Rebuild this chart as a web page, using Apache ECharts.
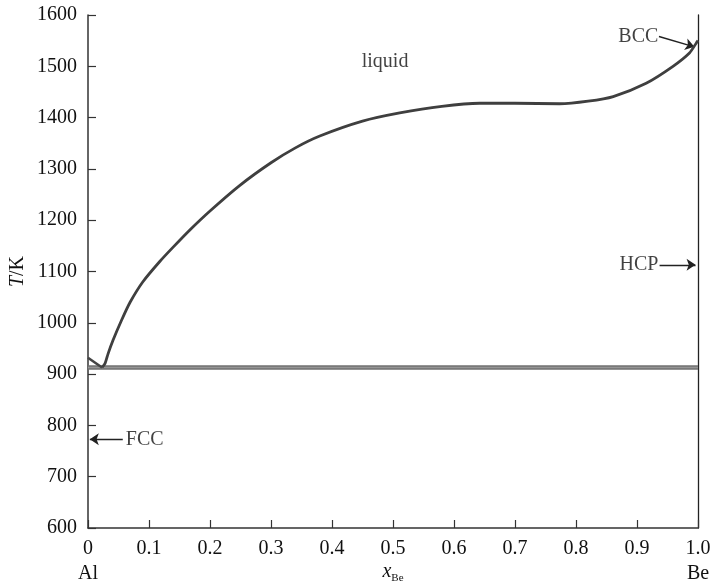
<!DOCTYPE html>
<html><head><meta charset="utf-8">
<script src="https://cdn.jsdelivr.net/npm/echarts@6/dist/echarts.min.js"></script>
<style>html,body{margin:0;padding:0;background:#fff}#c{width:717px;height:586px}</style>
</head><body><div id="c"></div>
<script>
// Liquidus (Al-rich branch near x=0)
const alBranchX = [0, 0.023];
const alBranchT = [932, 913];
// Main liquidus
const liqX = [0.023,0.028,0.033,0.041,0.055,0.069,0.09,0.118,0.14,0.167,0.2,0.249,0.3,0.34,0.38,0.45,0.511,0.58,0.642,0.7,0.773,0.82,0.861,0.915,0.959,0.986,0.997,1.0];
const liqT = [913,921,940,966,1005,1040,1080,1120,1148,1181,1218,1268,1312,1341,1364,1393,1409,1422,1428,1428,1427,1432,1441,1467,1500,1526,1545,1550];
// Eutectic isotherm
const eutX = [0, 1.0];
const eutT = [913, 913];
// Tick labels
const yTicks = [600,700,800,900,1000,1100,1200,1300,1400,1500,1600];
// Annotations [label, x, T]
const textNotes = [["liquid",0.487,1509,"center"],["BCC",0.935,1558,"right"],["HCP",0.935,1113,"right"],["FCC",0.062,773,"left"]];
const arrows = [[[0.936,1558],[0.994,1538]],[[0.937,1113],[0.996,1113]],[[0.057,773],[0.003,773]]];

const zip = (a,b)=>a.map((v,i)=>[v,b[i]]);
const serif = "'Liberation Serif','Times New Roman',serif";
const ink = '#111';
const chart = echarts.init(document.getElementById('c'));
chart.setOption({
  animation:false,
  backgroundColor:'#fff',
  grid:{left:88,right:19,top:15,bottom:58,containLabel:false,outerBoundsMode:'none'},
  xAxis:{type:'value',min:0,max:1,interval:0.1,
    name:'{i|x}{s|Be}',nameLocation:'middle',nameGap:31,nameMoveOverlap:false,
    nameTextStyle:{rich:{i:{fontFamily:serif,fontStyle:'italic',fontSize:20,color:ink},s:{fontFamily:serif,fontSize:11,color:ink,padding:[14,0,0,0]}}},
    axisLine:{lineStyle:{color:'#333',width:1.5}},
    axisTick:{inside:true,length:8,lineStyle:{color:'#333',width:1.2}},
    splitLine:{show:false},
    axisLabel:{fontFamily:serif,fontSize:20,color:ink,margin:8,lineHeight:25,
      formatter:v=>v===0?'0\nAl':(Math.abs(v-1)<1e-9?'1.0\nBe':v.toFixed(1))}
  },
  yAxis:[{type:'value',min:600,max:1600,interval:100,
    name:'{i|T}/K',nameLocation:'middle',nameGap:60,nameRotate:90,nameMoveOverlap:false,
    nameTextStyle:{rich:{i:{fontFamily:serif,fontStyle:'italic',fontSize:20,color:ink}},fontFamily:serif,fontSize:20,color:ink},
    axisLine:{show:true,lineStyle:{color:'#333',width:1.5}},
    axisTick:{inside:true,length:8,lineStyle:{color:'#333',width:1.2}},
    splitLine:{show:false},
    axisLabel:{fontFamily:serif,fontSize:20,color:ink,margin:11,formatter:v=>String(v)}
  },{type:'value',min:600,max:1600,position:'right',
    axisLine:{show:true,lineStyle:{color:'#222',width:1.3}},
    axisTick:{show:false},axisLabel:{show:false},splitLine:{show:false}}],
  series:[
    {type:'line',data:zip(eutX,eutT),symbol:'none',lineStyle:{color:'#707070',width:4.5}},
    {type:'line',data:zip(eutX,eutT),symbol:'none',lineStyle:{color:'#959595',width:1.5}},
    {type:'line',data:zip(alBranchX,alBranchT),symbol:'none',lineStyle:{color:'#444',width:2.5}},
    {type:'line',data:zip(liqX,liqT),symbol:'none',smooth:0.25,lineStyle:{color:'#3f3f3f',width:2.8}},
    {type:'lines',coordinateSystem:'cartesian2d',symbol:['none','arrow'],symbolSize:9,
      lineStyle:{color:'#222',width:1.4,opacity:1},
      data:arrows.map(a=>({coords:a}))},
    {type:'scatter',symbolSize:0,
      data:textNotes.map(n=>({value:[n[1],n[2]],label:{show:true,formatter:n[0],
        position:n[3]==='center'?'inside':(n[3]==='right'?'left':'right'),distance:0,
        fontFamily:serif,fontSize:20,color:ink}}))}
  ]
});
</script></body></html>
